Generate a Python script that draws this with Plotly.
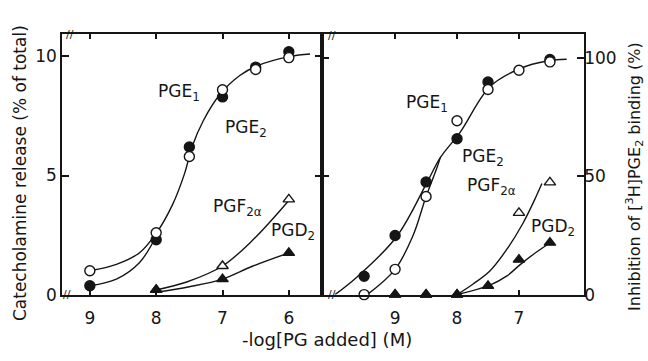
import plotly.graph_objects as go

# ---------------- data ----------------
# Left panel: catecholamine release (% of total) vs -log[PG]
L_pge1_x = [9.0, 8.0, 7.5, 7.0, 6.5, 6.0]          # open circles
L_pge1_y = [1.0, 2.6, 5.8, 8.6, 9.45, 9.95]
L_pge2_x = [9.0, 8.0, 7.5, 7.0, 6.5, 6.0]          # filled circles
L_pge2_y = [0.37, 2.3, 6.2, 8.3, 9.55, 10.2]
L_pgf_x = [8.0, 7.0, 6.0]                          # open triangles
L_pgf_y = [0.2, 1.2, 4.0]
L_pgd_x = [8.0, 7.0, 6.0]                          # filled triangles
L_pgd_y = [0.2, 0.65, 1.75]

# fitted curves (left)
L_c_pge1_x = [9.0, 8.6, 8.25, 8.0, 7.75, 7.57, 7.46, 7.29, 7.04, 6.74, 6.48, 5.98, 5.68]
L_c_pge1_y = [1.0, 1.27, 1.76, 2.57, 3.8, 5.1, 6.2, 7.3, 8.4, 9.2, 9.6, 10.0, 10.1]
L_c_pge2_x = [9.0, 8.6, 8.25, 8.0]
L_c_pge2_y = [0.37, 0.65, 1.35, 2.45]
L_c_pgf_x = [8.0, 7.54, 7.0, 6.54, 6.0]
L_c_pgf_y = [0.2, 0.53, 1.2, 2.3, 3.95]
L_c_pgd_x = [8.0, 7.5, 7.0, 6.54, 6.0]
L_c_pgd_y = [0.1, 0.33, 0.65, 1.2, 1.75]

# Right panel: inhibition of [3H]PGE2 binding (%)
R_pge1_x = [9.5, 9.0, 8.5, 8.0, 7.5, 7.0, 6.5]     # open circles
R_pge1_y = [0.0, 10.7, 41.5, 73.6, 86.8, 95.0, 98.5]
R_pge2_x = [9.5, 9.0, 8.5, 8.0, 7.5, 6.5]          # filled circles
R_pge2_y = [7.8, 25.0, 47.7, 66.0, 90.0, 99.5]
R_pgf_x = [9.0, 8.5, 8.0, 7.0, 6.5]                # open triangles
R_pgf_y = [0.0, 0.0, 0.0, 34.6, 47.5]
R_pgd_x = [9.0, 8.5, 8.0, 7.5, 7.0, 6.5]           # filled triangles
R_pgd_y = [0.0, 0.0, 0.0, 3.7, 14.8, 22.0]

# fitted curves (right)
R_c_pge2_x = [9.97, 9.6, 8.97, 8.48, 8.27, 7.95, 7.47, 7.0, 6.53, 6.23]
R_c_pge2_y = [0.0, 7.8, 24.7, 47.7, 58.0, 68.7, 88.0, 95.5, 99.0, 99.6]
R_c_pge1_x = [9.45, 9.0, 8.71, 8.5, 8.32, 8.27]
R_c_pge1_y = [0.0, 10.7, 25.0, 41.5, 54.0, 58.0]
R_c_pgf_x = [8.0, 7.74, 7.47, 7.2, 6.94, 6.75, 6.63]
R_c_pgf_y = [0.0, 4.5, 10.0, 19.0, 30.0, 40.0, 47.0]
R_c_pgd_x = [8.0, 7.47, 7.2, 6.98, 6.77, 6.55]
R_c_pgd_y = [0.0, 4.0, 7.8, 12.7, 17.0, 21.0]

left_xticks = [9, 8, 7, 6]
right_xticks = [9, 8, 7]
left_yticks = [0, 5, 10]
right_yticks = [0, 50, 100]

# ---------------- figure ----------------
INK = "#151515"
FONT = "DejaVu Sans"
fig = go.Figure()

def curve(x, y, xa, ya):
    fig.add_trace(go.Scatter(x=x, y=y, xaxis=xa, yaxis=ya, mode="lines",
                             line=dict(color=INK, width=1.4, shape="spline", smoothing=1.0),
                             hoverinfo="skip", showlegend=False, cliponaxis=False))

def pts(x, y, xa, ya, symbol, filled):
    fig.add_trace(go.Scatter(x=x, y=y, xaxis=xa, yaxis=ya, mode="markers",
                             marker=dict(symbol=symbol, size=10,
                                         color=INK if filled else "white",
                                         line=dict(color=INK, width=1.4)),
                             showlegend=False, cliponaxis=False))

curve(L_c_pge1_x, L_c_pge1_y, "x", "y")
curve(L_c_pge2_x, L_c_pge2_y, "x", "y")
curve(L_c_pgf_x, L_c_pgf_y, "x", "y")
curve(L_c_pgd_x, L_c_pgd_y, "x", "y")
pts(L_pge2_x, L_pge2_y, "x", "y", "circle", True)
pts(L_pge1_x, L_pge1_y, "x", "y", "circle", False)
pts(L_pgf_x, L_pgf_y, "x", "y", "triangle-up", False)
pts(L_pgd_x, L_pgd_y, "x", "y", "triangle-up", True)

curve(R_c_pge2_x, R_c_pge2_y, "x2", "y2")
curve(R_c_pge1_x, R_c_pge1_y, "x2", "y2")
curve(R_c_pgf_x, R_c_pgf_y, "x2", "y2")
curve(R_c_pgd_x, R_c_pgd_y, "x2", "y2")
pts(R_pge2_x, R_pge2_y, "x2", "y2", "circle", True)
pts(R_pge1_x, R_pge1_y, "x2", "y2", "circle", False)
pts(R_pgf_x, R_pgf_y, "x2", "y2", "triangle-up", False)
pts(R_pgd_x, R_pgd_y, "x2", "y2", "triangle-up", True)

W, H = 648, 361
def px(x): return x / W
def py(y): return 1 - y / H

xd1 = [px(62), px(322)]
xd2 = [px(322), px(584)]
yd = [py(303), py(35)]

axcommon = dict(showgrid=False, zeroline=False, showline=True, linecolor=INK, linewidth=1.6,
                ticks="inside", mirror="ticks", tickcolor=INK, tickwidth=1.5,
                tickfont=dict(family=FONT, size=17, color=INK))

fig.update_layout(
    width=W, height=H, margin=dict(l=0, r=0, t=0, b=0),
    paper_bgcolor="white", plot_bgcolor="white", showlegend=False,
    xaxis=dict(domain=xd1, range=[9.42, 5.50], tickvals=left_xticks, ticklen=5,
               ticklabelstandoff=7, anchor="y", **axcommon),
    yaxis=dict(domain=yd, range=[0, 10.94], tickvals=left_yticks, ticklen=7,
               anchor="x", **axcommon),
    xaxis2=dict(domain=xd2, range=[10.18, 5.95], tickvals=right_xticks, ticklen=5,
                ticklabelstandoff=7, anchor="y2", **axcommon),
    yaxis2=dict(domain=yd, range=[0, 110.3], tickvals=right_yticks, ticklen=7,
                side="right", anchor="x2", ticklabelstandoff=-5, **axcommon),
)

lab = dict(showarrow=False, xanchor="center", yanchor="middle",
           font=dict(family=FONT, size=17, color=INK))
ann = [
    dict(text="PGE<sub>1</sub>", x=7.66, y=8.49, xref="x", yref="y", **lab),
    dict(text="PGE<sub>2</sub>", x=6.65, y=6.98, xref="x", yref="y", **lab),
    dict(text="PGF<sub>2α</sub>", x=6.77, y=3.67, xref="x", yref="y", **lab),
    dict(text="PGD<sub>2</sub>", x=5.94, y=2.65, xref="x", yref="y", **lab),
    dict(text="PGE<sub>1</sub>", x=8.48, y=80.7, xref="x2", yref="y2", **lab),
    dict(text="PGE<sub>2</sub>", x=7.58, y=58.0, xref="x2", yref="y2", **lab),
    dict(text="PGF<sub>2α</sub>", x=7.45, y=45.7, xref="x2", yref="y2", **lab),
    dict(text="PGD<sub>2</sub>", x=6.45, y=28.4, xref="x2", yref="y2", **lab),
    dict(text="Catecholamine release (% of total)", x=px(20), y=py(178), xref="paper", yref="paper",
         textangle=-90, showarrow=False, xanchor="center", yanchor="middle",
         font=dict(family=FONT, size=17, color=INK)),
    dict(text="Inhibition of [<sup>3</sup>H]PGE<sub>2</sub> binding (%)", x=px(635), y=py(182),
         xref="paper", yref="paper", textangle=-90, showarrow=False, xanchor="center",
         yanchor="middle", font=dict(family=FONT, size=16, color=INK)),
    dict(text="-log[PG added] (M)", x=px(327), y=py(349), xref="paper", yref="paper",
         showarrow=False, xanchor="center", yanchor="middle",
         font=dict(family=FONT, size=18, color=INK)),
]
brk = dict(text="//", showarrow=False, xref="paper", yref="paper", xanchor="center", yanchor="middle",
           font=dict(family=FONT, size=11, color=INK))
for bx, by in [(70, 35), (67, 303), (332, 36), (332, 303)]:
    ann.append(dict(x=px(bx), y=py(by), **brk))
fig.update_layout(annotations=ann)

fig.write_html("out.html", config={"displayModeBar": False},
               post_script="document.body.style.margin='0';document.body.style.padding='0';")
